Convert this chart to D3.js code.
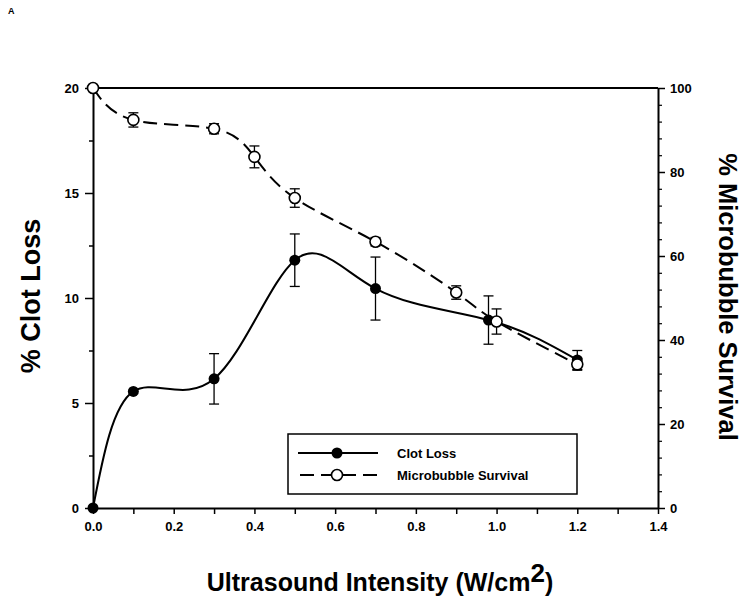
<!DOCTYPE html>
<html>
<head>
<meta charset="utf-8">
<script src="https://d3js.org/d3.v7.min.js"></script>
<style>
  body { margin: 0; background: #fff; }
  text { font-family: Arial, "Liberation Sans", sans-serif; }
</style>
</head>
<body>
<svg id="chart" width="750" height="601"></svg>
<script>
// clot loss (left axis)
var clotX = [0.0, 0.1, 0.3, 0.5, 0.7, 0.98, 1.2];
var clotY = [0, 5.55, 6.15, 11.8, 10.45, 8.95, 7.05];
var clotErr = [0, 0, 1.2, 1.25, 1.5, 1.15, 0.45];

// microbubble survival (right axis)
var mbX = [0.0, 0.1, 0.3, 0.4, 0.5, 0.7, 0.9, 1.0, 1.2];
var mbY = [100, 92.4, 90.3, 83.6, 73.8, 63.4, 51.3, 44.4, 34.2];
var mbErr = [0, 1.7, 1.2, 2.6, 2.2, 1.0, 1.6, 3.0, 1.4];

var xTicks = [0, 0.2, 0.4, 0.6, 0.8, 1.0, 1.2, 1.4];
var leftTicks = [0, 5, 10, 15, 20];
var rightTicks = [0, 20, 40, 60, 80, 100];

var pLeft = 93, pRight = 658, pTop = 88, pBottom = 508;

var svg = d3.select("#chart");

var x = d3.scaleLinear().domain([0, 1.4]).range([pLeft, pRight]);
var yL = d3.scaleLinear().domain([0, 20]).range([pBottom, pTop]);
var yR = d3.scaleLinear().domain([0, 100]).range([pBottom, pTop]);

// frame top line
svg.append("line")
  .attr("x1", pLeft).attr("x2", pRight).attr("y1", pTop).attr("y2", pTop)
  .attr("stroke", "#000").attr("stroke-width", 2);

function styleAxis(g, size) {
  g.select(".domain").attr("stroke-width", 2);
  g.selectAll(".tick line").attr("stroke-width", 1.5);
  g.selectAll(".tick text")
    .attr("font-size", size).attr("font-weight", "bold").attr("fill", "#000");
}

// minor ticks first
svg.append("g").attr("transform", "translate(0," + pBottom + ")")
  .call(d3.axisBottom(x).tickValues(d3.range(0.1, 1.4, 0.2)).tickSize(6).tickFormat(""))
  .call(function(g) { g.select(".domain").remove(); g.selectAll(".tick line").attr("stroke-width", 1.5); });
svg.append("g").attr("transform", "translate(" + pLeft + ",0)")
  .call(d3.axisLeft(yL).tickValues([2.5, 7.5, 12.5, 17.5]).tickSize(4).tickFormat(""))
  .call(function(g) { g.select(".domain").remove(); g.selectAll(".tick line").attr("stroke-width", 1.5); });
svg.append("g").attr("transform", "translate(" + pRight + ",0)")
  .call(d3.axisRight(yR).tickValues(d3.range(0, 101, 4).filter(function(d) { return d % 20 !== 0; })).tickSize(4).tickFormat(""))
  .call(function(g) { g.select(".domain").remove(); g.selectAll(".tick line").attr("stroke-width", 1.2); });

// major axes
svg.append("g").attr("transform", "translate(0," + pBottom + ")")
  .call(d3.axisBottom(x).tickValues(xTicks).tickSize(6).tickSizeOuter(0).tickPadding(8).tickFormat(d3.format(".1f")))
  .call(function(g) { styleAxis(g, 13); });
svg.append("g").attr("transform", "translate(" + pLeft + ",0)")
  .call(d3.axisLeft(yL).tickValues(leftTicks).tickSize(8).tickSizeOuter(0).tickPadding(6))
  .call(function(g) { styleAxis(g, 13); });
svg.append("g").attr("transform", "translate(" + pRight + ",0)")
  .call(d3.axisRight(yR).tickValues(rightTicks).tickSize(7).tickSizeOuter(0).tickPadding(5))
  .call(function(g) { styleAxis(g, 13); });

// curves
var clotPts = clotX.map(function(d, i) { return [x(d), yL(clotY[i])]; });
var mbPts = mbX.map(function(d, i) { return [x(d), yR(mbY[i])]; });
var line = d3.line().curve(d3.curveNatural);

svg.append("path").attr("d", line(clotPts))
  .attr("fill", "none").attr("stroke", "#000").attr("stroke-width", 2);
svg.append("path").attr("d", line(mbPts))
  .attr("fill", "none").attr("stroke", "#000").attr("stroke-width", 2)
  .attr("stroke-dasharray", "14,7");

// error bars
function errBars(xs, ys, es, yScale) {
  var g = svg.append("g").attr("stroke", "#000").attr("stroke-width", 1.3);
  xs.forEach(function(d, i) {
    if (!es[i]) return;
    var cx = x(d), y1 = yScale(ys[i] + es[i]), y2 = yScale(ys[i] - es[i]);
    g.append("line").attr("x1", cx).attr("x2", cx).attr("y1", y1).attr("y2", y2);
    g.append("line").attr("x1", cx - 5).attr("x2", cx + 5).attr("y1", y1).attr("y2", y1);
    g.append("line").attr("x1", cx - 5).attr("x2", cx + 5).attr("y1", y2).attr("y2", y2);
  });
}
errBars(clotX, clotY, clotErr, yL);
errBars(mbX, mbY, mbErr, yR);

// markers
svg.selectAll("circle.clot").data(clotPts).enter().append("circle")
  .attr("class", "clot")
  .attr("cx", function(d) { return d[0]; }).attr("cy", function(d) { return d[1]; })
  .attr("r", 5.5).attr("fill", "#000");
svg.selectAll("circle.mb").data(mbPts).enter().append("circle")
  .attr("class", "mb")
  .attr("cx", function(d) { return d[0]; }).attr("cy", function(d) { return d[1]; })
  .attr("r", 5.5).attr("fill", "#fff").attr("stroke", "#000").attr("stroke-width", 1.6);

// legend
var lg = svg.append("g");
lg.append("rect").attr("x", 288).attr("y", 434).attr("width", 289).attr("height", 60)
  .attr("fill", "#fff").attr("stroke", "#000").attr("stroke-width", 1.5);
lg.append("line").attr("x1", 298).attr("x2", 378).attr("y1", 453).attr("y2", 453)
  .attr("stroke", "#000").attr("stroke-width", 2);
lg.append("circle").attr("cx", 337).attr("cy", 453).attr("r", 5.5).attr("fill", "#000");
lg.append("line").attr("x1", 298).attr("x2", 378).attr("y1", 475).attr("y2", 475)
  .attr("stroke", "#000").attr("stroke-width", 2).attr("stroke-dasharray", "14,7").attr("stroke-dashoffset", -2);
lg.append("circle").attr("cx", 337).attr("cy", 475).attr("r", 5.5)
  .attr("fill", "#fff").attr("stroke", "#000").attr("stroke-width", 1.6);
lg.append("text").attr("x", 397).attr("y", 458).attr("font-size", 13).attr("font-weight", "bold").text("Clot Loss");
lg.append("text").attr("x", 397).attr("y", 480).attr("font-size", 13).attr("font-weight", "bold").text("Microbubble Survival");

// axis titles
svg.append("text").attr("transform", "translate(40,296) rotate(-90)")
  .attr("text-anchor", "middle").attr("font-size", 27).attr("font-weight", "bold").text("% Clot Loss");
svg.append("text").attr("transform", "translate(719,297) rotate(90)")
  .attr("text-anchor", "middle").attr("font-size", 25.5).attr("font-weight", "bold").text("% Microbubble Survival");
var xt = svg.append("text").attr("x", 380).attr("y", 591)
  .attr("text-anchor", "middle").attr("font-size", 25).attr("font-weight", "bold");
xt.append("tspan").text("Ultrasound Intensity (W/cm");
xt.append("tspan").attr("dy", -9).attr("font-size", 26).text("2");
xt.append("tspan").attr("dy", 9).text(")");

svg.append("text").attr("x", 8).attr("y", 14).attr("font-size", 9).attr("font-weight", "bold").text("A");
</script>
</body>
</html>
